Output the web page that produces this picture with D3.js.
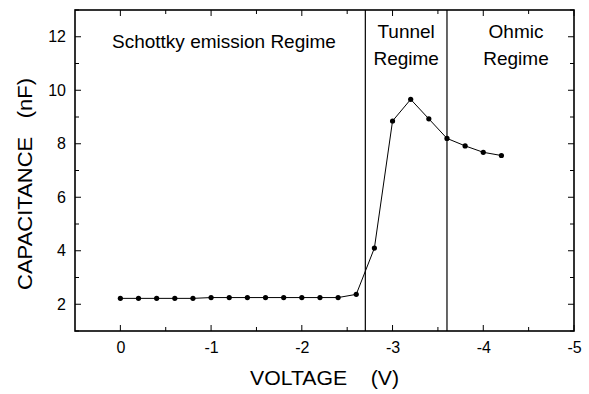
<!DOCTYPE html>
<html>
<head>
<meta charset="utf-8">
<script src="https://cdn.jsdelivr.net/npm/d3@7"></script>
<style>
  body { margin: 0; background: #fff; }
  svg { font-family: "Liberation Sans", Arial, sans-serif; }
  .axis text { font-size: 16px; fill: #000; }
</style>
</head>
<body>
<div id="chart"></div>
<script>
// data
const voltage = [0, -0.2, -0.4, -0.6, -0.8, -1.0, -1.2, -1.4, -1.6, -1.8, -2.0, -2.2, -2.4, -2.6, -2.8, -3.0, -3.2, -3.4, -3.6, -3.8, -4.0, -4.2];
const capacitance = [2.22, 2.22, 2.22, 2.22, 2.22, 2.25, 2.25, 2.25, 2.25, 2.25, 2.25, 2.25, 2.25, 2.37, 4.1, 8.85, 9.66, 8.93, 8.2, 7.92, 7.68, 7.56];
const xTicks = [0, -1, -2, -3, -4, -5];
const yTicks = [2, 4, 6, 8, 10, 12];
const boundaries = [-2.7, -3.6];

const chart = { width: 589, height: 394, left: 75, right: 15, top: 10, bottom: 63 };

const x = d3.scaleLinear()
    .domain([0.5, -5])
    .range([chart.left, chart.width - chart.right]);

const y = d3.scaleLinear()
    .domain([1, 13])
    .range([chart.height - chart.bottom, chart.top]);

const svg = d3.select('#chart')
    .append('svg')
    .attr('width', chart.width)
    .attr('height', chart.height);

const xMinor = d3.range(0, -5.01, -0.5);
const yMinor = d3.range(1, 13.01, 1);

// bottom axis labels (plain hyphen like the original)
const xAxis = svg.append('g')
    .attr('class', 'axis')
    .attr('transform', `translate(0, ${y(1)})`)
    .call(d3.axisBottom(x).tickValues(xTicks).tickSize(0).tickPadding(11).tickFormat(d => String(d)));
xAxis.select('.domain').remove();

// left axis labels
const yAxis = svg.append('g')
    .attr('class', 'axis')
    .attr('transform', `translate(${x(0.5)}, 0)`)
    .call(d3.axisLeft(y).tickValues(yTicks).tickSize(0).tickPadding(9));
yAxis.select('.domain').remove();

// inward ticks on all four sides
const ticks = svg.append('g').attr('stroke', '#000').attr('stroke-width', 1);
xMinor.forEach(v => {
    const len = Number.isInteger(v) ? 6 : 4;
    ticks.append('line').attr('x1', x(v)).attr('x2', x(v)).attr('y1', y(1)).attr('y2', y(1) - len);
    ticks.append('line').attr('x1', x(v)).attr('x2', x(v)).attr('y1', y(13)).attr('y2', y(13) + len);
});
yMinor.forEach(v => {
    const len = v % 2 === 0 ? 6 : 4;
    ticks.append('line').attr('x1', x(0.5)).attr('x2', x(0.5) + len).attr('y1', y(v)).attr('y2', y(v));
    ticks.append('line').attr('x1', x(-5)).attr('x2', x(-5) - len).attr('y1', y(v)).attr('y2', y(v));
});

// frame
svg.append('rect')
    .attr('x', x(0.5))
    .attr('y', y(13))
    .attr('width', x(-5) - x(0.5))
    .attr('height', y(1) - y(13))
    .attr('fill', 'none')
    .attr('stroke', '#000')
    .attr('stroke-width', 1.6);

// regime boundaries
svg.selectAll('.boundary')
    .data(boundaries)
    .join('line')
        .attr('class', 'boundary')
        .attr('x1', d => x(d)).attr('x2', d => x(d))
        .attr('y1', y(13)).attr('y2', y(1))
        .attr('stroke', '#000')
        .attr('stroke-width', 1.2);

// data line + points
const data = voltage.map((v, i) => ({ v: v, c: capacitance[i] }));
svg.append('path')
    .datum(data)
    .attr('d', d3.line().x(d => x(d.v)).y(d => y(d.c)))
    .attr('fill', 'none')
    .attr('stroke', '#000')
    .attr('stroke-width', 1);

svg.selectAll('.pt')
    .data(data)
    .join('circle')
        .attr('class', 'pt')
        .attr('cx', d => x(d.v))
        .attr('cy', d => y(d.c))
        .attr('r', 2.6)
        .attr('fill', '#000');

// region labels
const labelStyle = sel => sel.attr('font-size', 19).attr('fill', '#000');
const tunnelX = (x(-2.7) + x(-3.6)) / 2;
svg.append('text').call(labelStyle)
    .attr('x', 112).attr('y', 48)
    .text('Schottky emission Regime');
svg.append('text').call(labelStyle)
    .attr('text-anchor', 'middle')
    .attr('x', tunnelX).attr('y', 38)
    .text('Tunnel');
svg.append('text').call(labelStyle)
    .attr('text-anchor', 'middle')
    .attr('x', tunnelX).attr('y', 65)
    .text('Regime');
svg.append('text').call(labelStyle)
    .attr('text-anchor', 'middle')
    .attr('x', 516).attr('y', 38)
    .text('Ohmic');
svg.append('text').call(labelStyle)
    .attr('text-anchor', 'middle')
    .attr('x', 516).attr('y', 65)
    .text('Regime');

// axis titles
svg.append('text')
    .attr('x', 250).attr('y', 385)
    .attr('font-size', 20)
    .attr('xml:space', 'preserve')
    .attr('textLength', 149)
    .attr('lengthAdjust', 'spacingAndGlyphs')
    .text('VOLTAGE    (V)');

svg.append('text')
    .attr('transform', `translate(32, 290) rotate(-90)`)
    .attr('font-size', 21)
    .attr('xml:space', 'preserve')
    .attr('textLength', 212)
    .attr('lengthAdjust', 'spacingAndGlyphs')
    .text('CAPACITANCE   (nF)');
</script>
</body>
</html>
